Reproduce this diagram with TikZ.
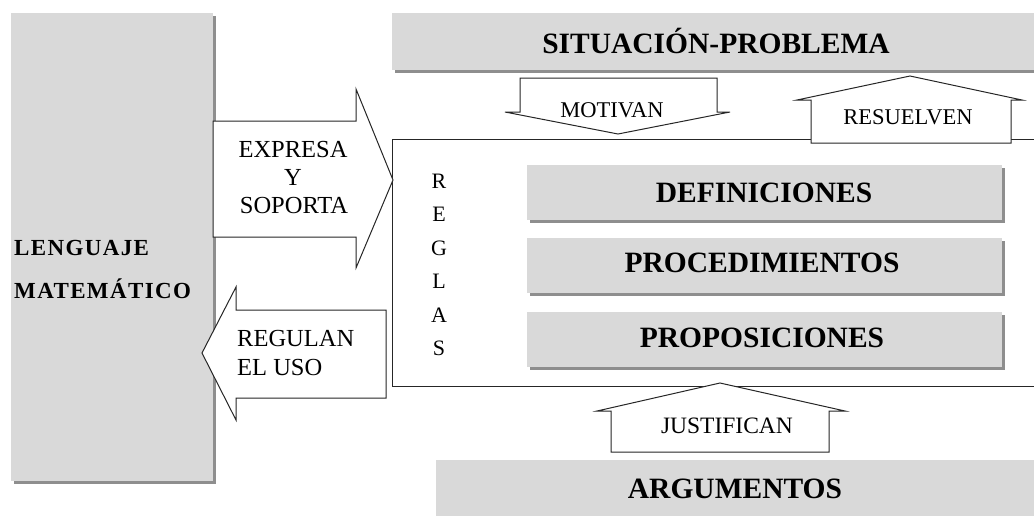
\documentclass[tikz,border=0pt]{standalone}
\usepackage{fontspec}
\setmainfont{Liberation Serif}
\usetikzlibrary{shadows}
\definecolor{boxgray}{HTML}{D9D9D9}
\definecolor{edgegray}{HTML}{8E8E8E}
\definecolor{linegray}{HTML}{262626}
\begin{document}
\begin{tikzpicture}[x=1pt,y=-1pt,
  graybox/.style={fill=boxgray, draw=none, inner sep=0pt, anchor=north west,
    copy shadow={shadow xshift=2.5pt, shadow yshift=-2.5pt, fill=edgegray, draw=none}},
  whitebox/.style={fill=white, draw=linegray, line width=1pt, inner sep=0pt, anchor=north west},
  blockarrow/.style={fill=white, draw=linegray, line width=1pt, line join=miter},
  titletext/.style={font=\fontsize{29.5}{32}\selectfont\bfseries, inner sep=0pt, anchor=base},
  sidetext/.style={font=\fontsize{23}{26}\selectfont\bfseries\addfontfeatures{LetterSpace=6}, inner sep=0pt, anchor=base west},
  armtext/.style={font=\fontsize{24.5}{28}\selectfont, inner sep=0pt},
  lettertext/.style={font=\fontsize{22}{24}\selectfont, inner sep=0pt, anchor=base},
  smalltext/.style={font=\fontsize{22.5}{24}\selectfont, inner sep=0pt, anchor=base}]
\useasboundingbox (0,0) rectangle (1034,515);
\clip (0,0) rectangle (1034,515);

% big boxes
\node[graybox, minimum width=660pt, minimum height=57pt] (sit) at (392,13) {};
\node[graybox, minimum width=202pt, minimum height=468pt] (leng) at (11,13) {};
\node[whitebox, minimum width=700pt, minimum height=247pt] (reglas) at (392,139) {};
\node[graybox, minimum width=475pt, minimum height=55pt] (def) at (527,165) {};
\node[graybox, minimum width=475pt, minimum height=55pt] (proc) at (527,238) {};
\node[graybox, minimum width=475pt, minimum height=55pt] (prop) at (527,312) {};
\node[graybox, minimum width=640pt, minimum height=80pt] (arg) at (436,460) {};

% block arrows
\draw[blockarrow] (213,121) -- (356,121) -- (356,89) -- (393,180) -- (356,268) -- (356,237) -- (213,237) -- cycle;
\draw[blockarrow] (386,310) -- (236,310) -- (236,287) -- (202,353) -- (236,420) -- (236,398) -- (386,398) -- cycle;
\draw[blockarrow] (520,78) -- (717,78) -- (717,112) -- (730,112) -- (618,134) -- (505,112) -- (520,112) -- cycle;
\draw[blockarrow] (811,143) -- (811,100) -- (797,100) -- (910,76) -- (1022,100) -- (1011,100) -- (1011,143) -- cycle;
\draw[blockarrow] (611,452) -- (611,411) -- (597,411) -- (720,383) -- (845,411) -- (829,411) -- (829,452) -- cycle;

% texts
\node[titletext] (tsit) at (716,53) {SITUACIÓN-PROBLEMA};
\node[titletext] (tdef) at (764,202) {DEFINICIONES};
\node[titletext] (tproc) at (762,272) {PROCEDIMIENTOS};
\node[titletext] (tprop) at (762,347) {PROPOSICIONES};
\node[titletext] (targ) at (735,498) {ARGUMENTOS};
\node[sidetext] (tleng1) at (14,255) {LENGUAJE};
\node[sidetext] (tleng2) at (14,298) {MATEMÁTICO};

\node[armtext, anchor=base] (texp1) at (293,157) {EXPRESA};
\node[armtext, anchor=base] (texp2) at (293,185) {Y};
\node[armtext, anchor=base] (texp3) at (294,213) {SOPORTA};
\node[armtext, anchor=base west] (treg1) at (237,346) {REGULAN};
\node[armtext, anchor=base west] (treg2) at (237,375) {EL USO};

\node[lettertext] (lr) at (439,188) {R};
\node[lettertext] (le) at (439,221) {E};
\node[lettertext] (lg) at (439,255) {G};
\node[lettertext] (ll) at (439,288) {L};
\node[lettertext] (la) at (439,322) {A};
\node[lettertext] (ls) at (439,355) {S};

\node[smalltext] (tmot) at (612,117) {MOTIVAN};
\node[smalltext] (tres) at (908,124) {RESUELVEN};
\node[smalltext, font=\fontsize{23.5}{25}\selectfont] (tjus) at (727,433) {JUSTIFICAN};
\end{tikzpicture}
\end{document}
